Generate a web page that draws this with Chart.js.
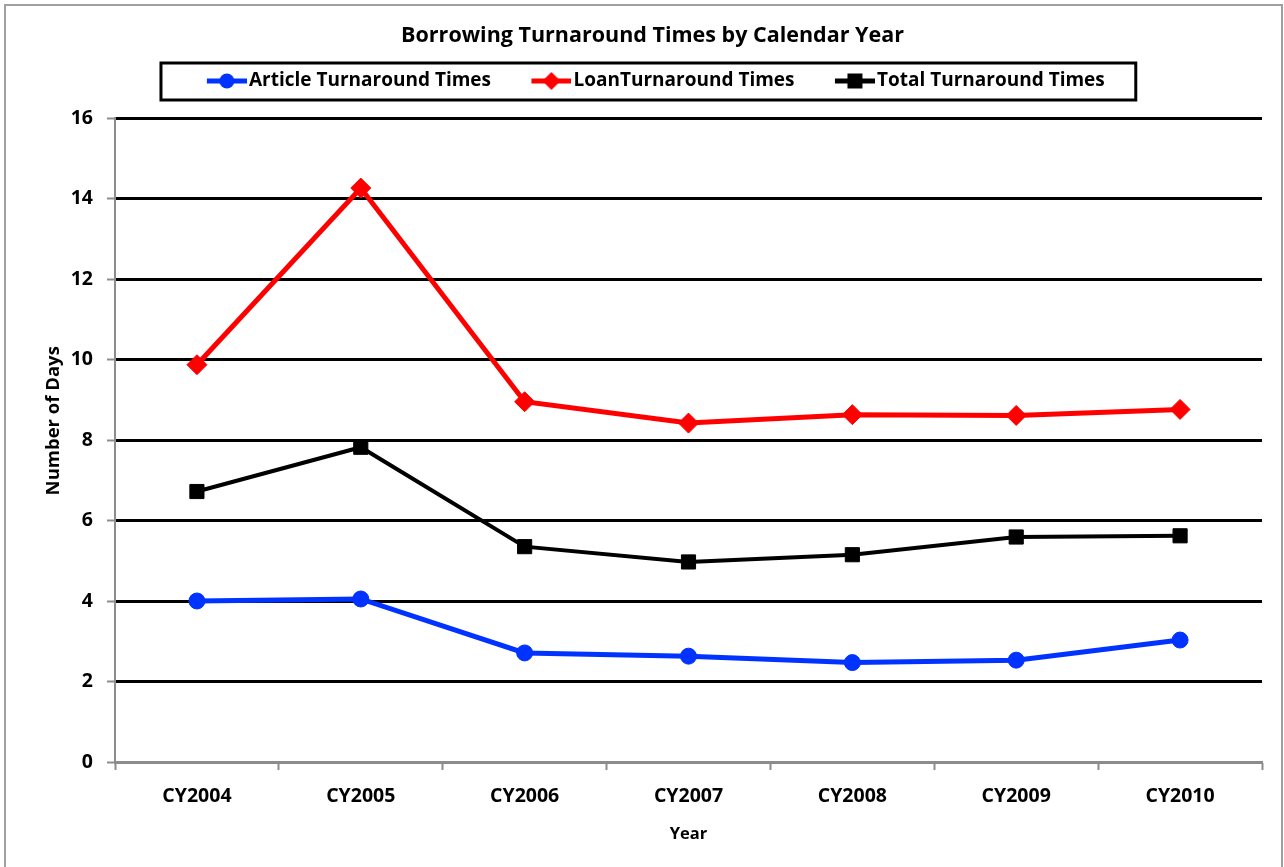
<!DOCTYPE html>
<html>
<head>
<meta charset="utf-8">
<script src="https://cdn.jsdelivr.net/npm/chart.js@4.4.1/dist/chart.umd.min.js"></script>
<style>
  html, body { margin: 0; padding: 0; background: #fff; }
  #wrap { width: 1284px; height: 867px; position: relative; }
</style>
</head>
<body>
<div id="wrap"><canvas id="chart" width="1284" height="867"></canvas></div>
<script>
// Data
const years = ['CY2004', 'CY2005', 'CY2006', 'CY2007', 'CY2008', 'CY2009', 'CY2010'];
const articleTimes = [4.0, 4.05, 2.71, 2.63, 2.47, 2.53, 3.03];
const loanTimes = [9.87, 14.26, 8.95, 8.42, 8.63, 8.61, 8.76];
const totalTimes = [6.72, 7.82, 5.35, 4.97, 5.15, 5.59, 5.62];
const yTicks = [0, 2, 4, 6, 8, 10, 12, 14, 16];

const FONT = '"Open Sans", Lato, sans-serif';
const GREY = '#8c8c8c';
const LEGEND_FONT = 19;
const LEGEND_PAD = 33.75;
const SWATCH_BOX = 39.25;
const SWATCH_LEN = 40;

// line + marker swatch for the legend, drawn at the right end of the image
// so it sits just before the label text
function legendSwatch(color, style) {
  const c = document.createElement('canvas');
  c.width = SWATCH_BOX + LEGEND_FONT - 4; c.height = 20;
  const g = c.getContext('2d');
  const x0 = c.width - SWATCH_LEN, cx = x0 + SWATCH_LEN / 2;
  g.strokeStyle = color; g.fillStyle = color; g.lineWidth = 5;
  g.beginPath(); g.moveTo(x0, 10); g.lineTo(x0 + SWATCH_LEN, 10); g.stroke();
  g.beginPath();
  if (style === 'circle') g.arc(cx, 10, 7.5, 0, Math.PI * 2);
  else if (style === 'rectRot') { g.moveTo(cx, 1); g.lineTo(cx + 9, 10); g.lineTo(cx, 19); g.lineTo(cx - 9, 10); g.closePath(); }
  else g.rect(cx - 7.5, 2.5, 15, 15);
  g.fill();
  return c;
}

// grey outer frame and boxed legend
const framePlugin = {
  id: 'frame',
  afterDraw(chart) {
    const ctx = chart.ctx;
    ctx.save();
    ctx.strokeStyle = '#a0a0a0';
    ctx.lineWidth = 2;
    ctx.strokeRect(5, 5, 1277, 900);
    const boxes = chart.legend.legendHitBoxes;
    if (boxes && boxes.length) {
      const first = boxes[0], last = boxes[boxes.length - 1];
      const swatchLeft = first.left + SWATCH_BOX + LEGEND_FONT / 2 - 2 - SWATCH_LEN;
      const l = swatchLeft - 46, r = last.left + last.width + 31;
      const cy = first.top + first.height / 2;
      ctx.strokeStyle = '#000';
      ctx.lineWidth = 3;
      ctx.strokeRect(l, cy - 18, r - l, 37);
    }
    ctx.restore();
  }
};

function series(label, data, color, style, radius, width) {
  return {
    label, data,
    borderColor: color, backgroundColor: color,
    borderWidth: width,
    pointStyle: style, pointRadius: radius, pointHoverRadius: radius,
    pointBackgroundColor: color, pointBorderColor: color, pointBorderWidth: 1,
    tension: 0,
    swatch: legendSwatch(color, style)
  };
}

new Chart(document.getElementById('chart'), {
  type: 'line',
  data: {
    labels: years,
    datasets: [
      series('Article Turnaround Times', articleTimes, '#0033ff', 'circle', 8, 5),
      series('LoanTurnaround Times', loanTimes, '#ff0000', 'rectRot', 10, 5),
      series('Total Turnaround Times', totalTimes, '#000000', 'rect', 10, 4)
    ]
  },
  options: {
    responsive: false,
    animation: false,
    layout: { padding: { left: 43, right: 22, top: 10, bottom: 0 } },
    plugins: {
      title: {
        display: true,
        text: 'Borrowing Turnaround Times by Calendar Year',
        color: '#000',
        font: { family: FONT, size: 21.5, weight: 'bold', lineHeight: 1 },
        padding: { top: 15, bottom: -8.75 }
      },
      // empty spacer between the legend and the plot
      subtitle: {
        display: true,
        text: '',
        weight: 500,
        font: { size: 1 },
        padding: { top: 16.3, bottom: 0 }
      },
      legend: {
        position: 'top',
        labels: {
          usePointStyle: true,
          pointStyleWidth: SWATCH_BOX,
          boxHeight: 18,
          padding: LEGEND_PAD,
          color: '#000',
          font: { family: FONT, size: LEGEND_FONT, weight: 'bold' },
          generateLabels(chart) {
            return chart.data.datasets.map((ds, i) => ({
              text: ds.label,
              fillStyle: ds.borderColor,
              strokeStyle: ds.borderColor,
              lineWidth: 0,
              pointStyle: ds.swatch,
              datasetIndex: i,
              hidden: false
            }));
          }
        }
      },
      tooltip: { enabled: false }
    },
    scales: {
      x: {
        offset: true,
        grid: {
          offset: true,
          drawOnChartArea: false,
          drawTicks: true,
          tickLength: 8,
          tickColor: GREY,
          tickWidth: 2
        },
        border: { color: GREY, width: 2 },
        ticks: {
          color: '#000',
          padding: 15,
          font: { family: FONT, size: 19.5, weight: 'bold' }
        },
        title: {
          display: true,
          text: 'Year',
          color: '#000',
          font: { family: FONT, size: 16.5, weight: 'bold' },
          padding: { top: 10, bottom: 23 }
        },
        afterFit(scale) { scale.height = 105; }
      },
      y: {
        min: 0,
        max: 16,
        afterBuildTicks(scale) { scale.ticks = yTicks.map(v => ({ value: v })); },
        grid: {
          color: ctx => (ctx.tick && ctx.tick.value === 0) ? GREY : '#000',
          lineWidth: 3,
          tickLength: 8,
          tickColor: GREY,
          tickWidth: 2
        },
        border: { color: GREY, width: 2 },
        ticks: {
          color: '#000',
          padding: 14,
          font: { family: FONT, size: 19.5, weight: 'bold' }
        },
        title: {
          display: true,
          // leading spaces nudge the label a little above the plot's middle
          text: '        Number of Days',
          color: '#000',
          font: { family: FONT, size: 18.5, weight: 'bold' },
          padding: { top: 0, bottom: 6 }
        },
        afterFit(scale) { scale.width = 72; }
      }
    }
  },
  plugins: [framePlugin]
});
</script>
</body>
</html>
